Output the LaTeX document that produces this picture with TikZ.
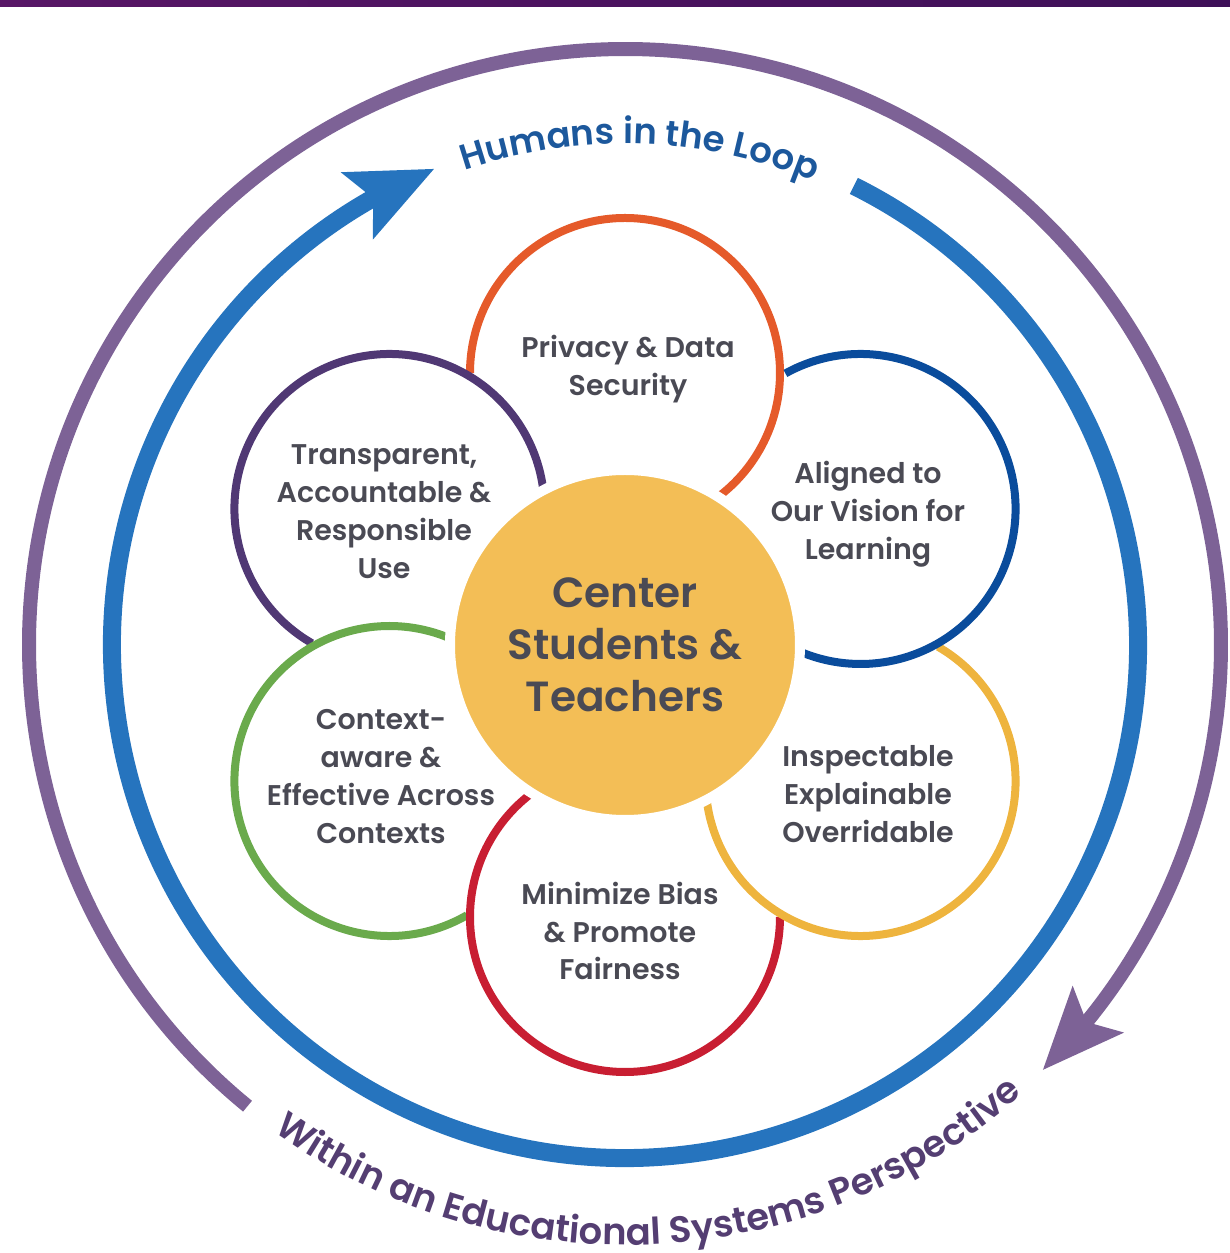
\documentclass[tikz,border=0pt]{standalone}
\usepackage{fontspec}
\IfFontExistsTF{Poppins SemiBold}
  {\setmainfont{Poppins}[BoldFont={Poppins SemiBold}]}
  {\setmainfont{Poppins}}
\usepackage{xcolor}
\usepackage{tikz}
\usetikzlibrary{arrows.meta}
\usetikzlibrary{bending}
\usetikzlibrary{decorations.text}

\definecolor{barLeft}{RGB}{88,22,102}
\definecolor{barRight}{RGB}{62,16,88}
\definecolor{ringPurple}{RGB}{125,98,150}
\definecolor{ringBlue}{RGB}{38,116,190}
\definecolor{loopBlue}{RGB}{28,88,156}
\definecolor{sysPurple}{RGB}{84,62,114}
\definecolor{petOrange}{RGB}{229,90,42}
\definecolor{petBlue}{RGB}{10,76,156}
\definecolor{petYellow}{RGB}{238,180,62}
\definecolor{petRed}{RGB}{200,30,50}
\definecolor{petGreen}{RGB}{106,170,76}
\definecolor{petPurple}{RGB}{80,56,116}
\definecolor{hubFill}{RGB}{243,190,86}
\definecolor{labelGray}{RGB}{74,74,84}

\newcommand{\loopfont}{\bfseries\fontsize{10.1}{12}\selectfont}
\newcommand{\sysfont}{\bfseries\fontsize{10.5}{12}\selectfont}

\tikzset{
  petal/.style={line width=0.08cm},
  petaltext/.style={align=center, text=labelGray, font=\bfseries\fontsize{8.1}{10.8}\selectfont},
  hub/.style={circle, fill=hubFill, draw=white, line width=0.1cm, minimum size=3.5cm,
    align=center, text=labelGray, font=\bfseries\fontsize{12}{14.8}\selectfont}
}

\begin{document}
\begin{tikzpicture}
        \useasboundingbox (-6.25,-6.08) rectangle (6.05,6.45);
        % banner strip
        \shade[left color=barLeft, right color=barRight] (-6.25,6.38) rectangle (6.05,6.45);

        % the two loops
        \draw[ringPurple, line width=0.14cm, -{Stealth[length=0.81cm, width=0.67cm, inset=0.16cm]}]
            (230.7:5.96) arc[start angle=230.7, end angle=-45.5, radius=5.96];
        \draw[ringBlue, line width=0.18cm, -{Stealth[length=0.84cm, width=0.71cm, inset=0.16cm]}]
            (63.5:5.13) arc[start angle=63.5, end angle=-248.2, radius=5.13];

        \path[decorate, decoration={text along path, text align=center, text color=loopBlue,
            text={|\loopfont|Humans in the Loop}}]
            (123:5.01) arc[start angle=123, end angle=53.6, radius=5.01];
        \path[decorate, decoration={text along path, text align=center, text color=sysPurple,
            text={|\sysfont|Within an Educational Systems Perspective}}]
            (232:6.0) arc[start angle=232, end angle=313.6, radius=6.0];

        % petal centres
        \coordinate (cPriv) at (90:2.72);
        \coordinate (cAlign) at (30:2.72);
        \coordinate (cInsp) at (-30:2.72);
        \coordinate (cFair) at (-90:2.72);
        \coordinate (cCont) at (-150:2.72);
        \coordinate (cTrans) at (150:2.72);

        \draw[petal, petOrange] (cPriv) ++(180:1.55) arc[start angle=180, end angle=-60, radius=1.55];
        \draw[petal, petPurple] (cTrans) ++(240:1.55) arc[start angle=240, end angle=0, radius=1.55];
        \draw[petal, petGreen] (cCont) ++(-60:1.55) arc[start angle=-60, end angle=-300, radius=1.55];
        \draw[petal, petRed] (cFair) ++(0:1.55) arc[start angle=0, end angle=-240, radius=1.55];
        \draw[petal, petYellow] (cInsp) ++(60:1.55) arc[start angle=60, end angle=-180, radius=1.55];
        \draw[petal, petBlue] (cAlign) ++(119:1.55) arc[start angle=119, end angle=-120, radius=1.55];

        \node[hub] (hub) at (0,0) {Center\\Students \&\\Teachers};

        \node[petaltext] (privacy) at (0.03,2.76) {Privacy \& Data\\Security};
        \node[petaltext] (aligned) at (2.43,1.31) {Aligned to\\Our Vision for\\Learning};
        \node[petaltext] (inspect) at (2.43,-1.49) {Inspectable\\Explainable\\Overridable};
        \node[petaltext] (fairness) at (-0.05,-2.86) {Minimize Bias\\\& Promote\\Fairness};
        \node[petaltext] (context) at (-2.44,-1.32) {Context-\\aware \&\\Effective Across\\Contexts};
        \node[petaltext] (transparent) at (-2.41,1.33) {Transparent,\\Accountable \&\\Responsible\\Use};
\end{tikzpicture}
\end{document}
